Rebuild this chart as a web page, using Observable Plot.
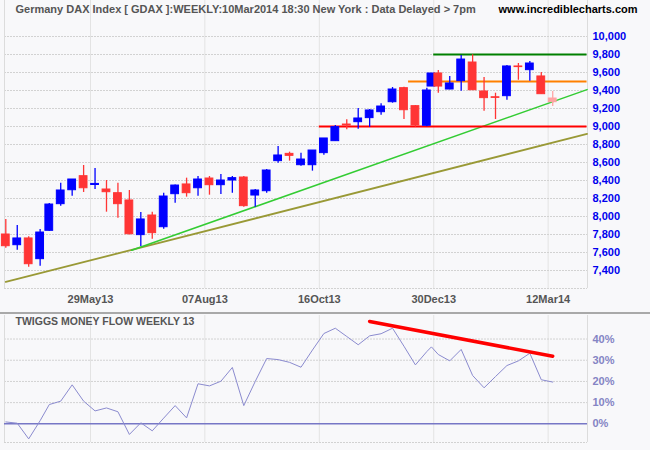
<!DOCTYPE html>
<html><head><meta charset="utf-8">
<script src="https://cdn.jsdelivr.net/npm/d3@7"></script>
<script src="https://cdn.jsdelivr.net/npm/@observablehq/plot@0.6"></script>
<style>
html,body{margin:0;padding:0;background:#f8f8fa;}
#chart{width:650px;height:450px;overflow:hidden;background:#f8f8fa;font-family:"Liberation Sans",Arial,sans-serif;}
#divider{height:0;border-top:2px solid #a9a9a9;}
svg{display:block;}
</style></head><body><div id="chart"></div>
<script>
// ---- data ----
const weekEnds = ["2013-04-05","2013-04-12","2013-04-19","2013-04-26","2013-05-03","2013-05-10","2013-05-17","2013-05-24","2013-05-31","2013-06-07","2013-06-14","2013-06-21","2013-06-28","2013-07-05","2013-07-12","2013-07-19","2013-07-26","2013-08-02","2013-08-09","2013-08-16","2013-08-23","2013-08-30","2013-09-06","2013-09-13","2013-09-20","2013-09-27","2013-10-04","2013-10-11","2013-10-18","2013-10-25","2013-11-01","2013-11-08","2013-11-15","2013-11-22","2013-11-29","2013-12-06","2013-12-13","2013-12-20","2013-12-27","2014-01-03","2014-01-10","2014-01-17","2014-01-24","2014-01-31","2014-02-07","2014-02-14","2014-02-21","2014-02-28","2014-03-07","2014-03-14"];
const opens  = [7800,7681,7756,7526,7841,8137,8292,8448,8350,8300,8259,8178,7793,8011,7881,8248,8356,8314,8422,8348,8400,8433,8233,8281,8615,8696,8570,8570,8704,8837,9022,9048,9093,9159,9270,9426,9226,9008,9444,9589,9411,9504,9711,9389,9325,9337,9667,9626,9556,9311];
const highs  = [7967,7900,7774,7856,8144,8370,8411,8567,8533,8400,8370,8289,8044,8048,8259,8350,8426,8444,8444,8467,8444,8444,8300,8522,8778,8715,8704,8733,8867,9011,9074,9200,9189,9252,9433,9437,9233,9426,9589,9622,9556,9789,9797,9544,9370,9678,9700,9722,9600,9389];
const lows   = [7648,7626,7437,7448,7833,8114,8226,8267,8300,8048,7981,7795,7667,7748,7859,8148,8215,8226,8237,8244,8259,8104,8104,8259,8593,8615,8559,8504,8681,8837,8963,8970,8993,9126,9259,9078,8993,8997,9444,9370,9407,9392,9403,9170,9078,9292,9514,9503,9359,9222];
const closes = [7670,7756,7470,7822,8133,8289,8411,8314,8362,8270,8137,7803,7967,7815,8222,8344,8259,8411,8348,8400,8426,8115,8289,8511,8678,8674,8633,8733,8867,8993,9011,9089,9178,9222,9411,9181,9011,9400,9589,9444,9478,9744,9403,9315,9318,9667,9660,9700,9359,9270];
const moneyFlow = [0.9,0.3,-7.1,1.5,9.1,10.7,18.4,10.7,6.1,7.5,5.7,-5.0,0.5,-3.3,2.7,8.6,2.8,18.9,17.9,20.1,26.6,8.6,20.0,30.8,30.3,29.0,26.7,34.8,42.6,45.1,41.2,37.3,41.5,42.5,45.1,36.6,27.8,34.1,36.3,32.7,29.7,35.1,22.8,17.0,22.3,27.5,29.7,33.3,20.8,19.7];
const holidays = ["2013-05-01","2013-12-24","2013-12-25","2013-12-26","2013-12-31","2014-01-01"];
const tickDates = ["2013-05-29","2013-08-07","2013-10-16","2013-12-30","2014-03-12"];
const tickLabels = ["29May13","07Aug13","16Oct13","30Dec13","12Mar14"];
const priceTicks = [7400,7600,7800,8000,8200,8400,8600,8800,9000,9200,9400,9600,9800,10000];
const priceGrid = [7200,7400,7600,7800,8000,8200,8400,8600,8800,9000,9200,9400,9600,9800,10000];
const mfTicks = [0,10,20,30,40];
const levelValues = [9800, 9500, 9000];
const levelStarts = ["2013-12-30","2013-12-10","2013-10-16"];
const levelEnd = "2014-04-04";
const greenTrendDates = ["2013-06-24","2014-04-04"];
const greenTrendValues = [7625, 9410];
const oliveTrendDates = ["2013-04-05","2014-04-04"];
const oliveTrendValues = [7273, 8918];
const mfTrendDates = ["2013-11-15","2014-03-14"];
const mfTrendValues = [48.3, 31.9];
const titleText = "Germany DAX Index [ GDAX ]:WEEKLY:10Mar2014 18:30 New York : Data Delayed > 7pm";
const siteText = "www.incrediblecharts.com";
const panelTitle = "TWIGGS MONEY FLOW WEEKLY 13";

// ---- trading-day calendar (x position = trading-day index) ----
const parse = d3.utcParse("%Y-%m-%d");
const fmt = d3.utcFormat("%Y-%m-%d");
const hol = new Set(holidays);
const days = d3.utcDays(parse("2013-04-05"), parse("2014-04-05"))
  .filter(d => d.getUTCDay() % 6 !== 0 && !hol.has(fmt(d)));
const dayIndex = new Map(days.map((d, i) => [fmt(d), i]));
const T = s => dayIndex.get(s);

const candles = weekEnds.map((d, i) => ({t: T(d), o: opens[i], h: highs[i], l: lows[i], c: closes[i], last: i === weekEnds.length - 1}));
const candleColor = d => d.last ? "#ffa4a4" : (d.c >= d.o ? "#0000ff" : "#ff3535");
const mfData = weekEnds.map((d, i) => ({t: T(d), v: moneyFlow[i]}));
const tickIdx = tickDates.map(T);
const tickLabelMap = new Map(tickIdx.map((t, i) => [t, tickLabels[i]]));
const levels = levelValues.map((v, i) => ({v, t1: T(levelStarts[i]), t2: T(levelEnd)}));
const levelColors = ["#008000", "#ff8000", "#ff0000"];
const green = greenTrendDates.map((d, i) => ({t: T(d), v: greenTrendValues[i]}));
const olive = oliveTrendDates.map((d, i) => ({t: T(d), v: oliveTrendValues[i]}));
const mfTrend = mfTrendDates.map((d, i) => ({t: T(d), v: mfTrendValues[i]}));

const font = '"Liberation Sans", Arial, sans-serif';
const xDomain = [-0.57, 254.2];
const halfW = 1.7;

const main = Plot.plot({
  width: 650, height: 312,
  marginLeft: 4, marginRight: 63, marginTop: 0, marginBottom: 24,
  style: {background: "transparent", fontFamily: font, overflow: "visible"},
  x: {domain: xDomain, axis: null},
  y: {domain: [7200, 10400], axis: null},
  marks: [
    Plot.gridX(tickIdx, {stroke: "#e3e3e3", strokeOpacity: 1}),
    Plot.gridY(priceGrid, {stroke: "#d2d2d2", strokeOpacity: 1, strokeDasharray: "2,1"}),
    Plot.ruleX([xDomain[0], xDomain[1]], {stroke: "#dcdcdc"}),
    Plot.line(olive, {x: "t", y: "v", stroke: "#999936", strokeWidth: 1.8}),
    Plot.line(green, {x: "t", y: "v", stroke: "#33cc33", strokeWidth: 1.5}),
    Plot.ruleY(levels, {y: "v", x1: "t1", x2: "t2", stroke: d => levelColors[levelValues.indexOf(d.v)], strokeWidth: 2}),
    Plot.ruleX(candles, {x: "t", y1: "l", y2: "h", stroke: candleColor, strokeWidth: 1.3}),
    Plot.rect(candles, {x1: d => d.t - halfW, x2: d => d.t + halfW, y1: "o", y2: "c", fill: candleColor, stroke: candleColor, strokeWidth: 1}),
    Plot.axisY(priceTicks, {anchor: "right", label: null, tickSize: 0, tickPadding: 5, tickFormat: d3.format(","), color: "#0000ee", fontWeight: "bold", fontSize: 11}),
    Plot.axisX(tickIdx, {anchor: "bottom", label: null, tickSize: 0, tickPadding: 7, tickFormat: d => tickLabelMap.get(d), color: "#555", fontWeight: "bold", fontSize: 11}),
    Plot.text([titleText], {frameAnchor: "top-left", dx: 11, dy: 5, lineAnchor: "top", textAnchor: "start", fill: "#555", fontWeight: "bold", fontSize: 11}),
    Plot.text([siteText], {frameAnchor: "top-right", dx: 50, dy: 5, lineAnchor: "top", textAnchor: "end", fill: "#000", fontWeight: "bold", fontSize: 11})
  ]
});

const lower = Plot.plot({
  width: 650, height: 136,
  marginLeft: 4, marginRight: 63, marginTop: 1, marginBottom: 8,
  style: {background: "transparent", fontFamily: font, overflow: "visible"},
  x: {domain: xDomain, axis: null},
  y: {domain: [-8.8, 51.1], axis: null},
  marks: [
    Plot.gridX(tickIdx, {stroke: "#e3e3e3", strokeOpacity: 1}),
    Plot.gridY([10, 20, 30, 40, -8.8], {stroke: "#d2d2d2", strokeOpacity: 1, strokeDasharray: "2,1"}),
    Plot.ruleX([xDomain[0], xDomain[1]], {stroke: "#dcdcdc"}),
    Plot.ruleY([0], {stroke: "#7777c6", strokeWidth: 1.5}),
    Plot.line(mfData, {x: "t", y: "v", stroke: "#8b8bcf", strokeWidth: 1}),
    Plot.line(mfTrend, {x: "t", y: "v", stroke: "#ff0000", strokeWidth: 3.5}),
    Plot.axisY(mfTicks, {anchor: "right", label: null, tickSize: 0, tickPadding: 5, tickFormat: d => d + "%", color: "#8484c4", fontWeight: "bold", fontSize: 11}),
    Plot.text([panelTitle], {frameAnchor: "top-left", dx: 11, dy: 2, lineAnchor: "top", textAnchor: "start", fill: "#555", fontWeight: "bold", fontSize: 10.5})
  ]
});

const root = document.getElementById("chart");
root.appendChild(main);
const div = document.createElement("div");
div.id = "divider";
root.appendChild(div);
root.appendChild(lower);
</script></body></html>
